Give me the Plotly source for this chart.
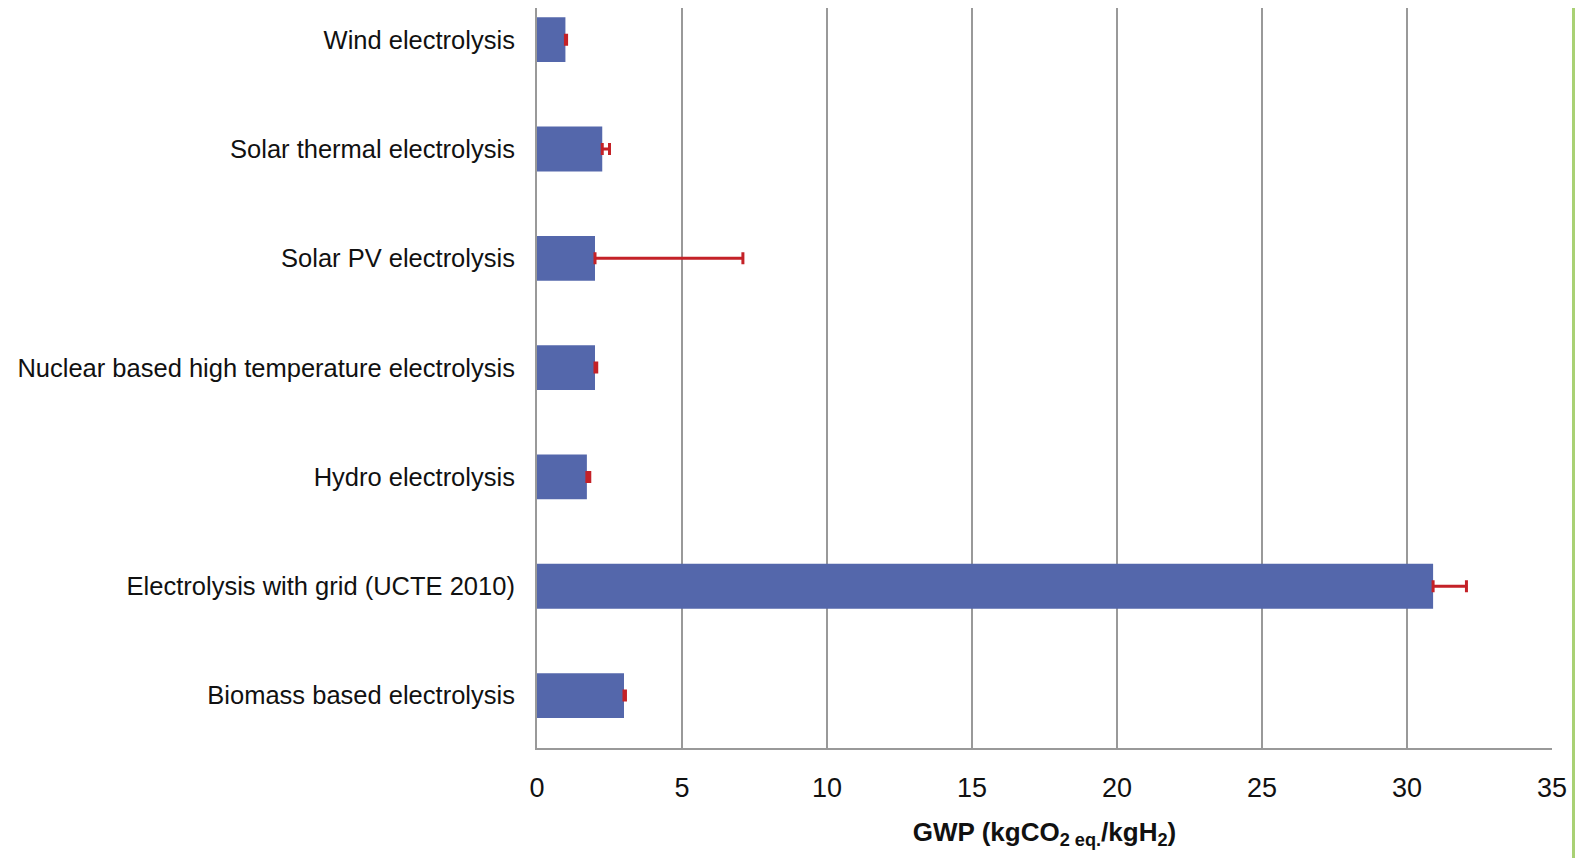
import plotly.graph_objects as go

categories = [
    "Biomass based electrolysis",
    "Electrolysis with grid (UCTE 2010)",
    "Hydro electrolysis",
    "Nuclear based high temperature electrolysis",
    "Solar PV electrolysis",
    "Solar thermal electrolysis",
    "Wind electrolysis",
]
gwp = [3.0, 30.9, 1.72, 2.0, 2.0, 2.25, 0.98]
err_plus = [0.05, 1.15, 0.1, 0.06, 5.1, 0.25, 0.04]
x_ticks = [0, 5, 10, 15, 20, 25, 30, 35]

FONT = "Liberation Sans, Arial, sans-serif"

fig = go.Figure()
fig.add_trace(go.Bar(
    y=categories,
    x=gwp,
    orientation="h",
    width=0.41,
    marker=dict(color="#5467ab", line=dict(width=0)),
    error_x=dict(type="data", array=err_plus, symmetric=False, arrayminus=[0] * len(gwp),
                 color="#c42127", thickness=3, width=6),
))

fig.update_layout(
    width=1575, height=850,
    paper_bgcolor="white", plot_bgcolor="white",
    margin=dict(l=529, r=31, t=0, b=110),
    showlegend=False,
    font=dict(family=FONT, color="#111111"),
    shapes=[dict(type="rect", xref="paper", yref="paper", x0=1.0197, x1=1.05, y0=-0.2, y1=1.02,
                 fillcolor="#a9d174", line=dict(width=0), layer="below")],
)
fig.update_xaxes(
    range=[0, 35], tickvals=x_ticks, ticktext=[str(v) for v in x_ticks],
    showgrid=True, gridcolor="#999999", gridwidth=1.5,
    showline=True, linecolor="#999999", linewidth=2,
    zeroline=False, ticks="", ticklabelstandoff=15, automargin=False,
    tickfont=dict(size=27, family=FONT, color="#111111"),
    title=dict(text="<b>GWP (kgCO<sub>2 eq.</sub>/kgH<sub>2</sub>)</b>",
               font=dict(size=26, family=FONT, color="#111111"), standoff=20),
)
fig.update_yaxes(
    range=[-0.48, 6.29], showgrid=False,
    showline=True, linecolor="#999999", linewidth=2,
    ticks="", ticklabelstandoff=15, automargin=False,
    tickfont=dict(size=25.5, family=FONT, color="#111111"),
)

fig.write_html("out.html")
